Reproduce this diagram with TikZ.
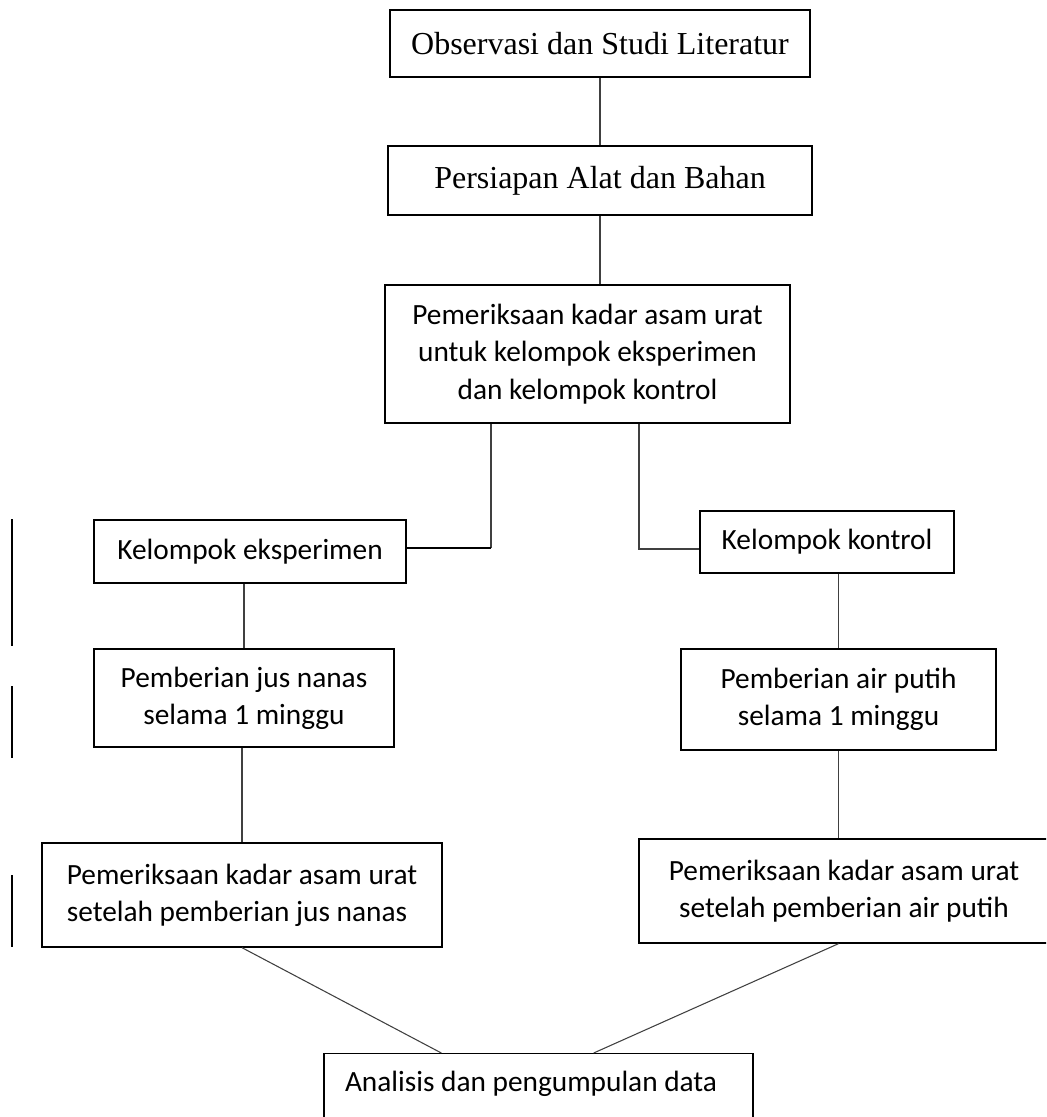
\documentclass[tikz,border=0pt]{standalone}
\usepackage{fontspec}
\setmainfont{Carlito}
\newfontfamily\timesfont{Liberation Serif}
\usepackage{tikz}

\tikzset{
  kotak/.style={draw, line width=1pt, inner sep=0pt, align=center,
    font=\fontsize{22}{28}\selectfont},
  kotaktebal/.style={kotak, line width=2.2pt},
  garis/.style={draw=black!75, line width=0.8pt}
}

\begin{document}
\begin{tikzpicture}[x=0.75pt, y=-0.75pt]
  \useasboundingbox (0,0) rectangle (1046,1117);
  \clip (0,0) rectangle (1046,1117);
  \node[kotaktebal, minimum width=315pt, minimum height=50.25pt, font=\timesfont\fontsize{24}{28}\selectfont] (observasi) at (600,43.5) {Observasi dan Studi Literatur};
  \node[kotaktebal, minimum width=318pt, minimum height=51.75pt, font=\timesfont\fontsize{24}{28}\selectfont] (persiapan) at (600,180.5) {Persiapan Alat dan Bahan};
  \node[kotaktebal, minimum width=303.75pt, minimum height=103.5pt] (periksaawal) at (587.5,354) {Pemeriksaan kadar asam urat\\untuk kelompok eksperimen\\dan kelompok kontrol};
  \node[kotak, minimum width=234pt, minimum height=47.25pt] (eksperimen) at (250,551.5) {Kelompok eksperimen};
  \node[kotak, minimum width=190.5pt, minimum height=46.5pt] (kontrol) at (827,542) {Kelompok kontrol};
  \node[kotak, minimum width=225pt, minimum height=73.5pt] (jus) at (244,698) {Pemberian jus nanas\\selama 1 minggu};
  \node[kotak, minimum width=236.25pt, minimum height=75.75pt] (air) at (838.5,699.5) {Pemberian air putih\\selama 1 minggu};
  \node[kotak, minimum width=300pt, minimum height=78pt, align=left] (periksajus) at (242,895) {Pemeriksaan kadar asam urat\\setelah pemberian jus nanas};
  \node[kotak, minimum width=307.5pt, minimum height=78pt] (periksaair) at (844,891) {Pemeriksaan kadar asam urat\\setelah pemberian air putih};
  \node[kotak, anchor=north, minimum width=321.75pt, text width=290.25pt, align=flush left, text height=18pt, text depth=50pt, inner ysep=10.5pt] (analisis) at (538.5,1053) {Analisis dan pengumpulan data};
  \coordinate (kiri) at (491,548);
  \coordinate (kanan) at (639,549);
  \draw[garis] (observasi.south) -- (persiapan.north);
  \draw[garis] (persiapan.south) -- (persiapan.south |- periksaawal.north);
  \draw[garis] (periksaawal.south -| kiri) -- (kiri);
  \draw[line width=2pt] (kiri) -- (eksperimen.east |- kiri);
  \draw[garis] (periksaawal.south -| kanan) -- (kanan) -- (kontrol.west |- kanan);
  \draw[garis] (jus.north |- eksperimen.south) -- (jus.north);
  \draw[garis] (air.north |- kontrol.south) -- (air.north);
  \draw[garis] (periksajus.north |- jus.south) -- (periksajus.north);
  \draw[garis] (air.south) -- (air.south |- periksaair.north);
  \draw[garis] (periksajus.south) -- ([xshift=88.5pt]analisis.north west);
  \draw[garis] (air.south |- periksaair.south) -- ([xshift=-120pt]analisis.north east);
  \draw[line width=1.5pt] (12,519) -- (12,646);
  \draw[line width=1.5pt] (12,686) -- (12,758);
  \draw[line width=1.5pt] (12,875) -- (12,947);
\end{tikzpicture}
\end{document}
